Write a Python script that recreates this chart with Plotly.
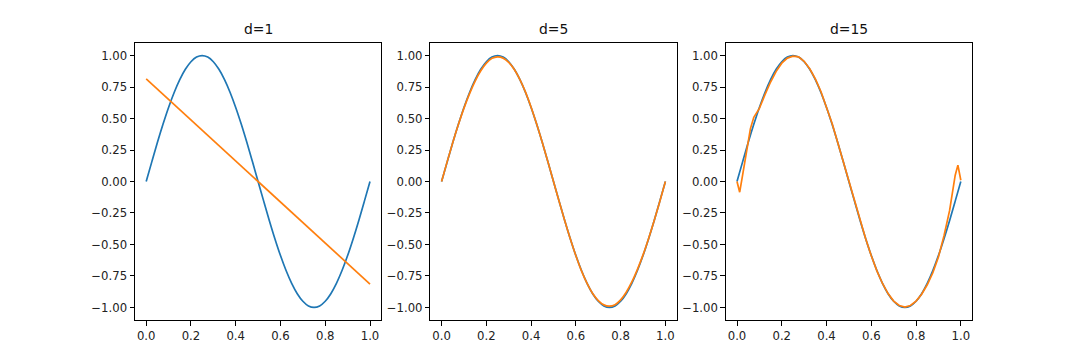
import plotly.graph_objects as go
from plotly.subplots import make_subplots

# ---- data ----
x_true = [0.0, 0.025, 0.05, 0.075, 0.1, 0.125, 0.15, 0.175, 0.2, 0.225, 0.25,
          0.275, 0.3, 0.325, 0.35, 0.375, 0.4, 0.425, 0.45, 0.475, 0.5,
          0.525, 0.55, 0.575, 0.6, 0.625, 0.65, 0.675, 0.7, 0.725, 0.75,
          0.775, 0.8, 0.825, 0.85, 0.875, 0.9, 0.925, 0.95, 0.975, 1.0]
y_true = [0.0, 0.156, 0.309, 0.454, 0.588, 0.707, 0.809, 0.891, 0.951, 0.988, 1.0,
          0.988, 0.951, 0.891, 0.809, 0.707, 0.588, 0.454, 0.309, 0.156, 0.0,
          -0.156, -0.309, -0.454, -0.588, -0.707, -0.809, -0.891, -0.951, -0.988, -1.0,
          -0.988, -0.951, -0.891, -0.809, -0.707, -0.588, -0.454, -0.309, -0.156, 0.0]

x_d1 = [0.0, 1.0]
y_d1 = [0.815, -0.815]

x_d5 = x_true
y_d5 = [0.0, 0.158, 0.31, 0.452, 0.583, 0.698, 0.798, 0.879, 0.94, 0.978, 0.99,
        0.98, 0.946, 0.89, 0.81, 0.71, 0.59, 0.455, 0.31, 0.157, 0.0,
        -0.157, -0.31, -0.455, -0.59, -0.71, -0.81, -0.89, -0.946, -0.98, -0.99,
        -0.978, -0.94, -0.879, -0.798, -0.698, -0.583, -0.452, -0.31, -0.158, 0.0]

x_d15 = [0.0, 0.012, 0.025, 0.045, 0.06, 0.075, 0.1, 0.125, 0.15, 0.175, 0.2,
         0.225, 0.25, 0.275, 0.3, 0.325, 0.35, 0.375, 0.4, 0.425, 0.45, 0.475,
         0.5, 0.525, 0.55, 0.575, 0.6, 0.625, 0.65, 0.675, 0.7, 0.725, 0.75,
         0.775, 0.8, 0.825, 0.85, 0.875, 0.9, 0.925, 0.95, 0.965, 0.975, 0.987, 1.0]
y_d15 = [0.0, -0.085, 0.05, 0.27, 0.42, 0.51, 0.58, 0.69, 0.79, 0.875, 0.94,
         0.98, 0.995, 0.99, 0.955, 0.895, 0.815, 0.715, 0.595, 0.46, 0.31, 0.155,
         0.0, -0.155, -0.31, -0.455, -0.59, -0.71, -0.81, -0.89, -0.95, -0.985, -0.998,
         -0.985, -0.95, -0.895, -0.82, -0.725, -0.6, -0.43, -0.23, -0.08, 0.05, 0.13, 0.01]

titles = ["d=1", "d=5", "d=15"]
fits = [(x_d1, y_d1), (x_d5, y_d5), (x_d15, y_d15)]

x_ticks = [0.0, 0.2, 0.4, 0.6, 0.8, 1.0]
x_ticktext = ["0.0", "0.2", "0.4", "0.6", "0.8", "1.0"]
y_ticks = [1.0, 0.75, 0.5, 0.25, 0.0, -0.25, -0.5, -0.75, -1.0]
y_ticktext = ["1.00", "0.75", "0.50", "0.25", "0.00", "\u22120.25", "\u22120.50", "\u22120.75", "\u22121.00"]

BLUE = "#1f77b4"
ORANGE = "#ff7f0e"

fig = make_subplots(rows=1, cols=3, subplot_titles=titles, horizontal_spacing=0.0588)

for i, (fx, fy) in enumerate(fits, start=1):
    fig.add_trace(go.Scatter(x=x_true, y=y_true, mode="lines", line=dict(color=BLUE, width=1.7),
                             line_shape="spline", showlegend=False), row=1, col=i)
    fig.add_trace(go.Scatter(x=fx, y=fy, mode="lines", line=dict(color=ORANGE, width=1.7),
                             line_shape="spline" if i != 3 else "linear", showlegend=False), row=1, col=i)
    fig.update_xaxes(range=[-0.05, 1.05], tickvals=x_ticks, ticktext=x_ticktext,
                     showgrid=False, zeroline=False, showline=True, linecolor="black", linewidth=1,
                     mirror=True, ticks="outside", ticklen=4.5, tickcolor="black",
                     tickfont=dict(size=11.7, color="#222"), row=1, col=i)
    fig.update_yaxes(range=[-1.1, 1.1], tickvals=y_ticks, ticktext=y_ticktext,
                     showgrid=False, zeroline=False, showline=True, linecolor="black", linewidth=1,
                     mirror=True, ticks="outside", ticklen=4.5, tickcolor="black",
                     tickfont=dict(size=11.7, color="#222"), row=1, col=i)

for ann in fig.layout.annotations:
    ann.font = dict(size=13.9, color="#111", family="DejaVu Sans")
    ann.yshift = 4

fig.update_layout(
    width=1080, height=360,
    margin=dict(l=127, r=116, t=35, b=48),
    paper_bgcolor="white", plot_bgcolor="white",
    font=dict(family="DejaVu Sans", size=11.7, color="#222"),
    showlegend=False,
)

fig.write_html("out.html")
